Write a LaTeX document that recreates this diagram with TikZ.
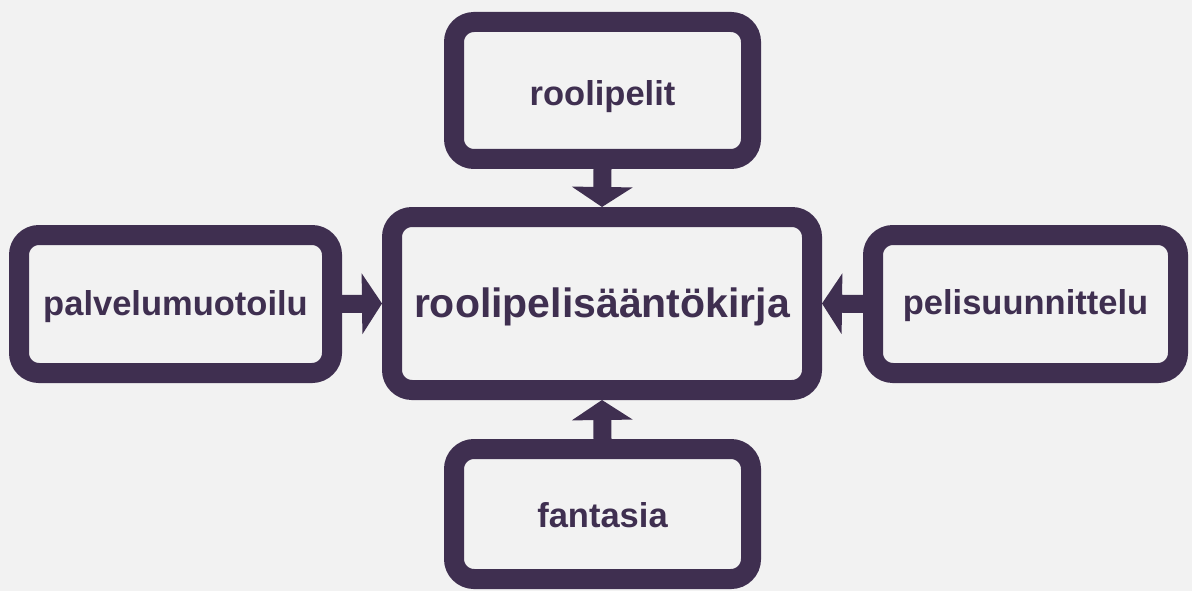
\documentclass[tikz,border=0pt]{standalone}
\usepackage{fontspec}
\setmainfont{Liberation Sans}
\usepackage{xcolor}
\usepackage{tikz}
\usetikzlibrary{arrows.meta,positioning}
\definecolor{kehys}{HTML}{3F2F50}
\definecolor{tausta}{HTML}{F2F2F2}

\begin{document}
\begin{tikzpicture}[x=1pt,y=-1pt,
	laatikko/.style={draw=kehys,line width=20pt,rounded corners=20pt,fill=tausta,text=kehys,font=\fontsize{34.5}{40}\selectfont\bfseries,align=center,inner sep=0pt,text depth=0pt},
	nuoli/.style={draw=kehys,line width=18pt,-{Triangle[width=60pt,length=20pt]}}]
	\fill[tausta] (0,0) rectangle (1192,591);
	\useasboundingbox (0,0) rectangle (1192,591);
	\node[laatikko,minimum width=420pt,minimum height=173pt,text height=27pt,font=\fontsize{41}{48}\selectfont\bfseries] (kirja) at (602,303.5) {roolipelisääntökirja};
	\node[laatikko,minimum width=297pt,minimum height=137pt,text height=31pt] (roolipelit) at (602.5,90.5) {roolipelit};
	\node[laatikko,minimum width=297pt,minimum height=130pt,text height=26pt] (fantasia) at (602.5,514) {fantasia};
	\node[laatikko,minimum width=313pt,minimum height=138pt,text height=22pt] (palvelu) at (175.5,304) {palvelumuotoilu};
	\node[laatikko,minimum width=305pt,minimum height=138pt,text height=20pt] (peli) at (1025.5,304) {pelisuunnittelu};
	\draw[nuoli] (roolipelit.south) -- (kirja.north);
	\draw[nuoli] (fantasia.north) -- (kirja.south);
	\draw[nuoli] (palvelu.east) -- (kirja.west);
	\draw[nuoli] (peli.west) -- (kirja.east);
\end{tikzpicture}
\end{document}
